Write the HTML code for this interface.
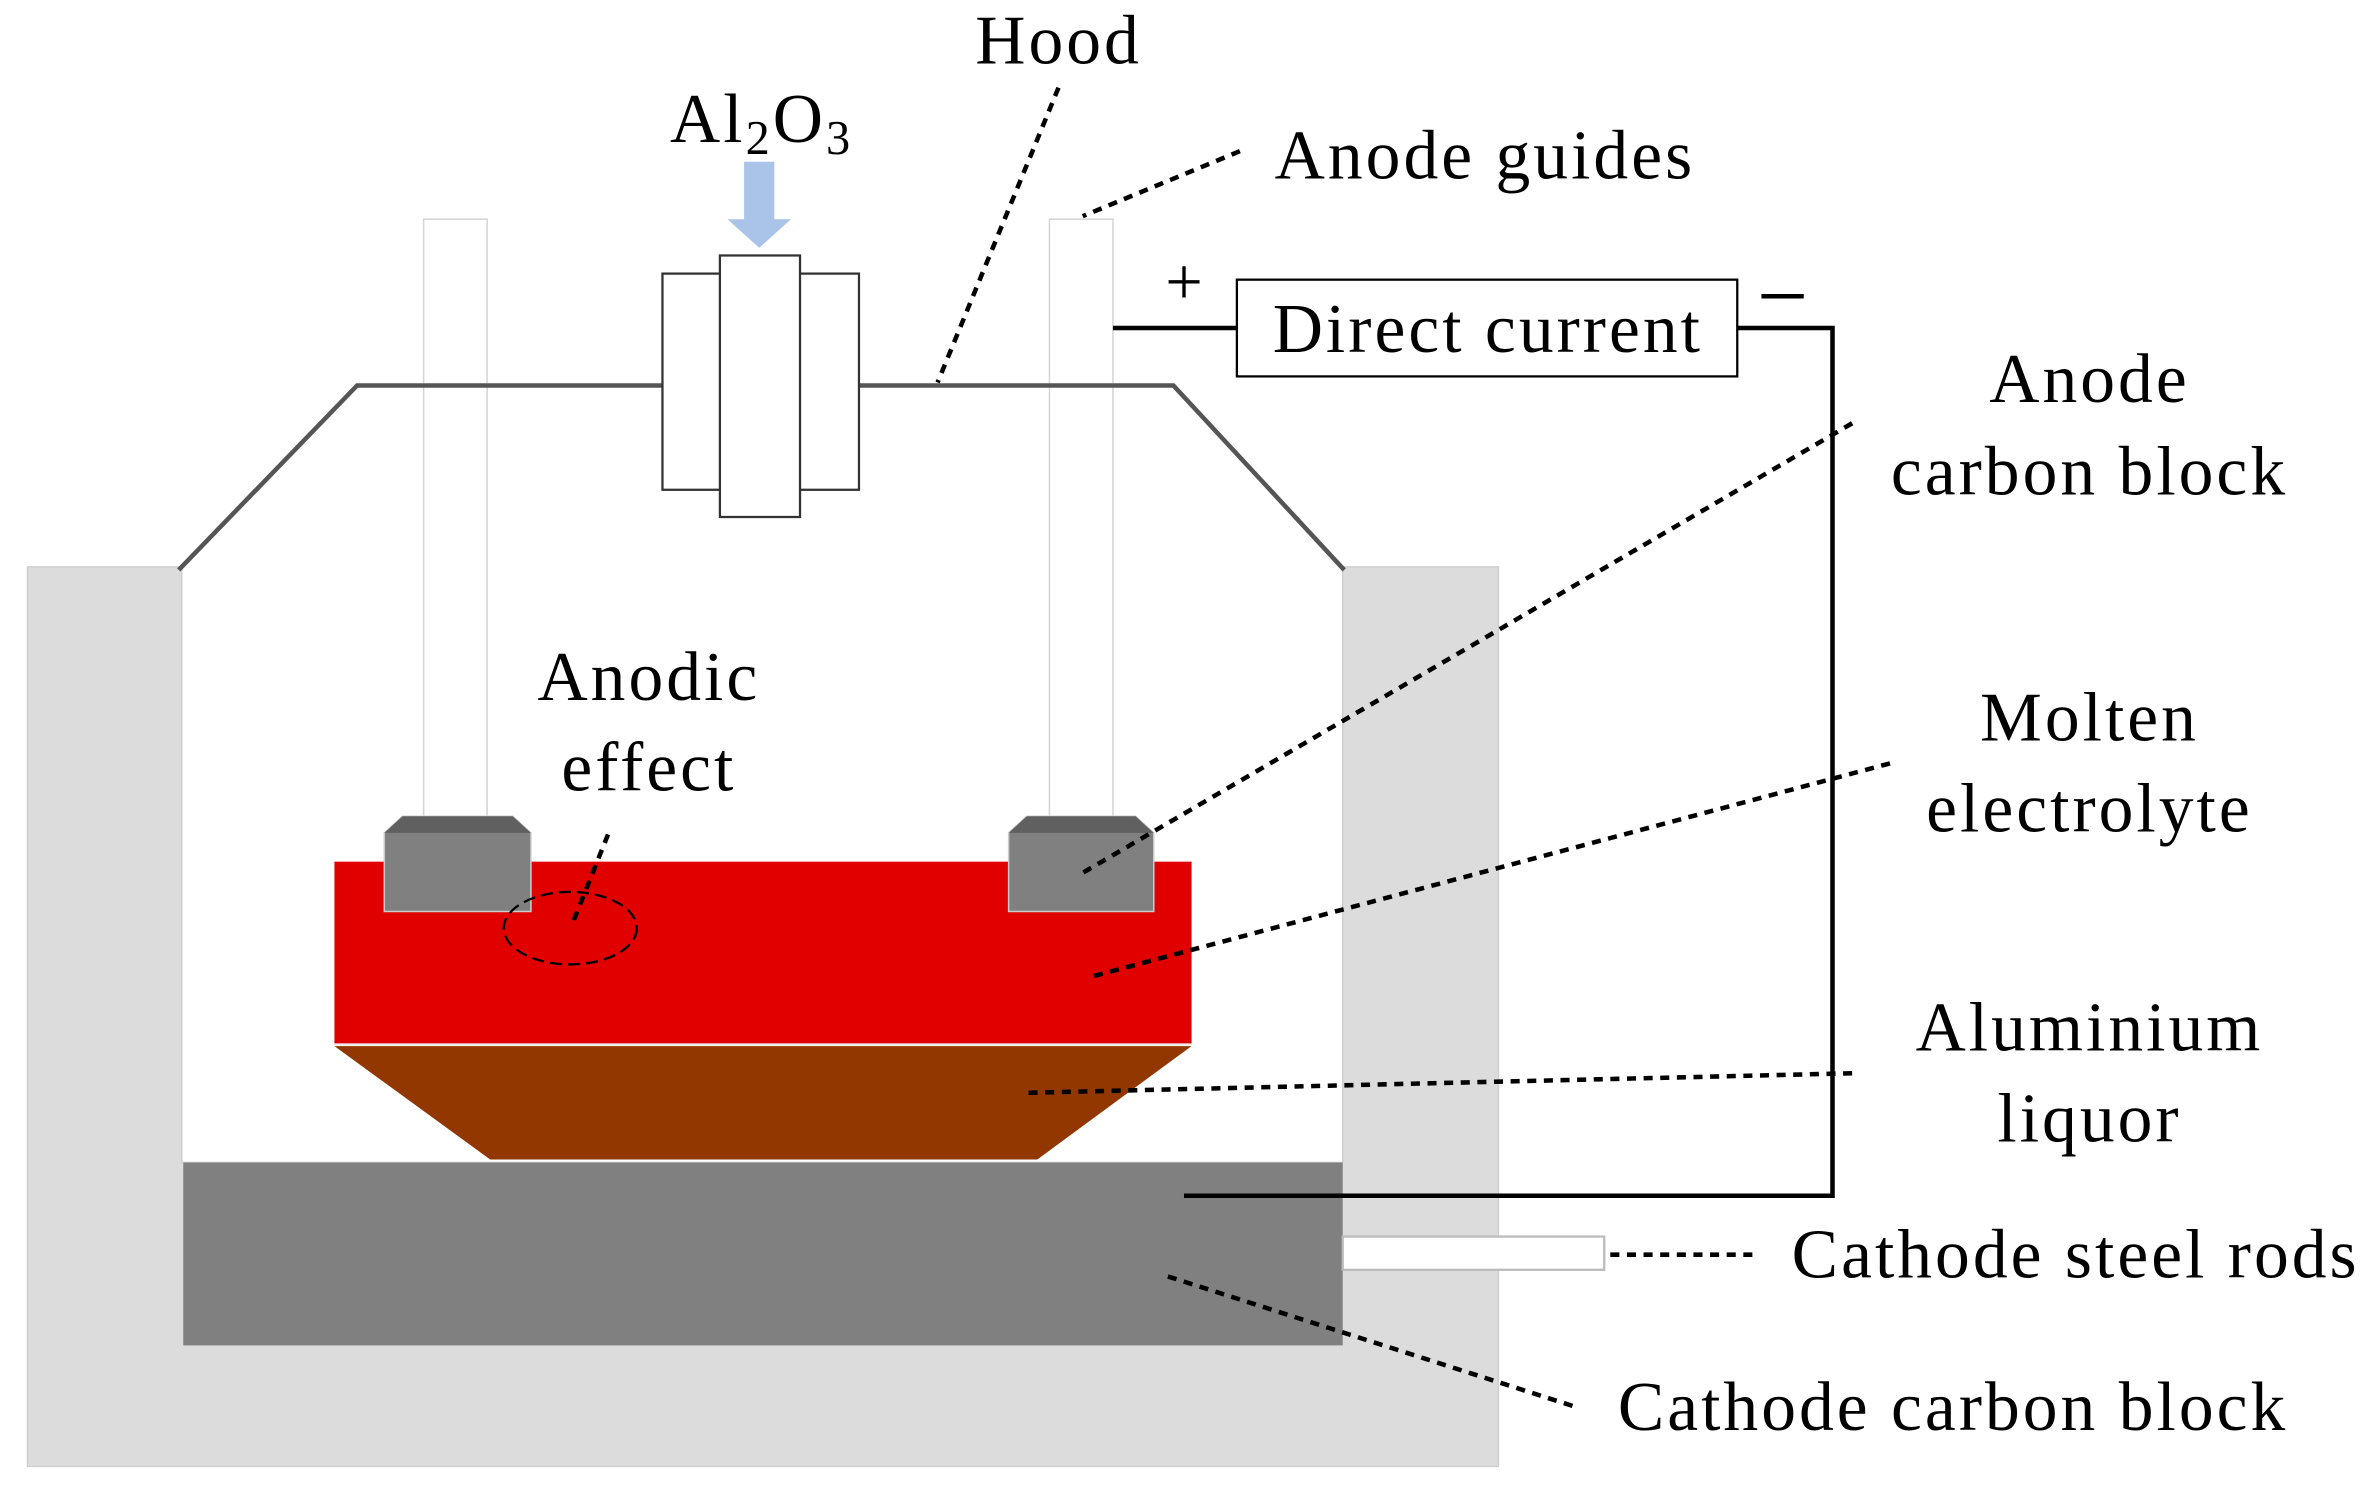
<!DOCTYPE html>
<html><head><meta charset="utf-8"><style>
html,body{margin:0;padding:0;background:#fff;}
svg{display:block;}
text{font-family:"Liberation Serif",serif;fill:#000;}
</style></head><body>
<svg width="2371" height="1489" viewBox="0 0 1568 985" xmlns="http://www.w3.org/2000/svg">
<rect width="1568" height="985" fill="#fff"/>
<path d="M18,375 H120 V769 H888 V375 H991 V970 H18 Z" fill="#dcdcdc" stroke="#cfcfcf" stroke-width="1"/>
<rect x="121" y="769" width="767" height="121" fill="#808080"/>
<rect x="888" y="818" width="173" height="22" fill="#fff" stroke="#bbb" stroke-width="1.5"/>
<!-- anode rods -->
<rect x="280" y="145" width="42" height="400" fill="#fff" stroke="#d4d4d4" stroke-width="1"/>
<rect x="694" y="145" width="42" height="400" fill="#fff" stroke="#d4d4d4" stroke-width="1"/>
<!-- hood -->
<polyline points="118,377 236,255 438,255" fill="none" stroke="#555" stroke-width="3"/>
<polyline points="568,255 776,255 889,377" fill="none" stroke="#555" stroke-width="3"/>
<rect x="438" y="181" width="130" height="143" fill="#fff" stroke="#333" stroke-width="1.5"/>
<rect x="476" y="169" width="53" height="173" fill="#fff" stroke="#333" stroke-width="1.5"/>
<polygon points="492,107 512,107 512,145 523,145 502,164 481,145 492,145" fill="#a9c4e8"/>
<rect x="221" y="570" width="567" height="121" fill="#e00000"/>
<polygon points="221,692 788,692 686,767 324,767" fill="#923700"/>
<line x1="221" y1="691" x2="788" y2="691" stroke="#eee" stroke-width="1.5"/>
<polygon points="254,551 266,540 339,540 351,551 351,603 254,603" fill="#808080" stroke="#ccc" stroke-width="1"/>
<polygon points="254,551 266,540 339,540 351,551" fill="#606060"/>
<polygon points="667,551 679,540 751,540 763,551 763,603 667,603" fill="#808080" stroke="#ccc" stroke-width="1"/>
<polygon points="667,551 679,540 751,540 763,551" fill="#606060"/>
<ellipse cx="377" cy="614" rx="44" ry="24" fill="none" stroke="#000" stroke-width="1.5" stroke-dasharray="8,4"/>
<line x1="736" y1="217" x2="818" y2="217" stroke="#000" stroke-width="3"/>
<rect x="818" y="185" width="331" height="64" fill="#fff" stroke="#000" stroke-width="1.5"/>
<polyline points="1149,217 1212,217 1212,791 783,791" fill="none" stroke="#000" stroke-width="3"/>
<g stroke="#000" stroke-width="3" stroke-dasharray="6,5" fill="none">
<line x1="700" y1="58" x2="620" y2="253"/>
<line x1="820" y1="100" x2="716" y2="143"/>
<line x1="1225" y1="280" x2="715" y2="578"/>
<line x1="1250" y1="505" x2="722" y2="646"/>
<line x1="1225" y1="710" x2="676" y2="723"/>
<line x1="1065" y1="830" x2="1160" y2="830"/>
<line x1="1040" y1="930" x2="768" y2="843"/>
<line x1="402" y1="552" x2="378" y2="612"/>
</g>
<g font-size="46" letter-spacing="2">
<text x="700" y="42" text-anchor="middle">Hood</text>
<text x="443" y="94">Al<tspan font-size="32" dy="8">2</tspan><tspan dy="-8">O</tspan><tspan font-size="32" dy="8">3</tspan></text>
<text x="843" y="118">Anode guides</text>
<text x="984" y="233" text-anchor="middle">Direct current</text>
<text x="1382" y="266" text-anchor="middle">Anode</text>
<text x="1382" y="327" text-anchor="middle">carbon block</text>
<text x="1382" y="490" text-anchor="middle">Molten</text>
<text x="1382" y="550" text-anchor="middle">electrolyte</text>
<text x="1382" y="695" text-anchor="middle">Aluminium</text>
<text x="1382" y="755" text-anchor="middle">liquor</text>
<text x="1185" y="845">Cathode steel rods</text>
<text x="1070" y="946">Cathode carbon block</text>
<text x="429" y="463" text-anchor="middle">Anodic</text>
<text x="429" y="523" text-anchor="middle">effect</text>
</g>
<text x="783" y="201" text-anchor="middle" font-size="44">+</text>
<line x1="1165" y1="196" x2="1193" y2="196" stroke="#000" stroke-width="3"/>
</svg>
</body></html>
